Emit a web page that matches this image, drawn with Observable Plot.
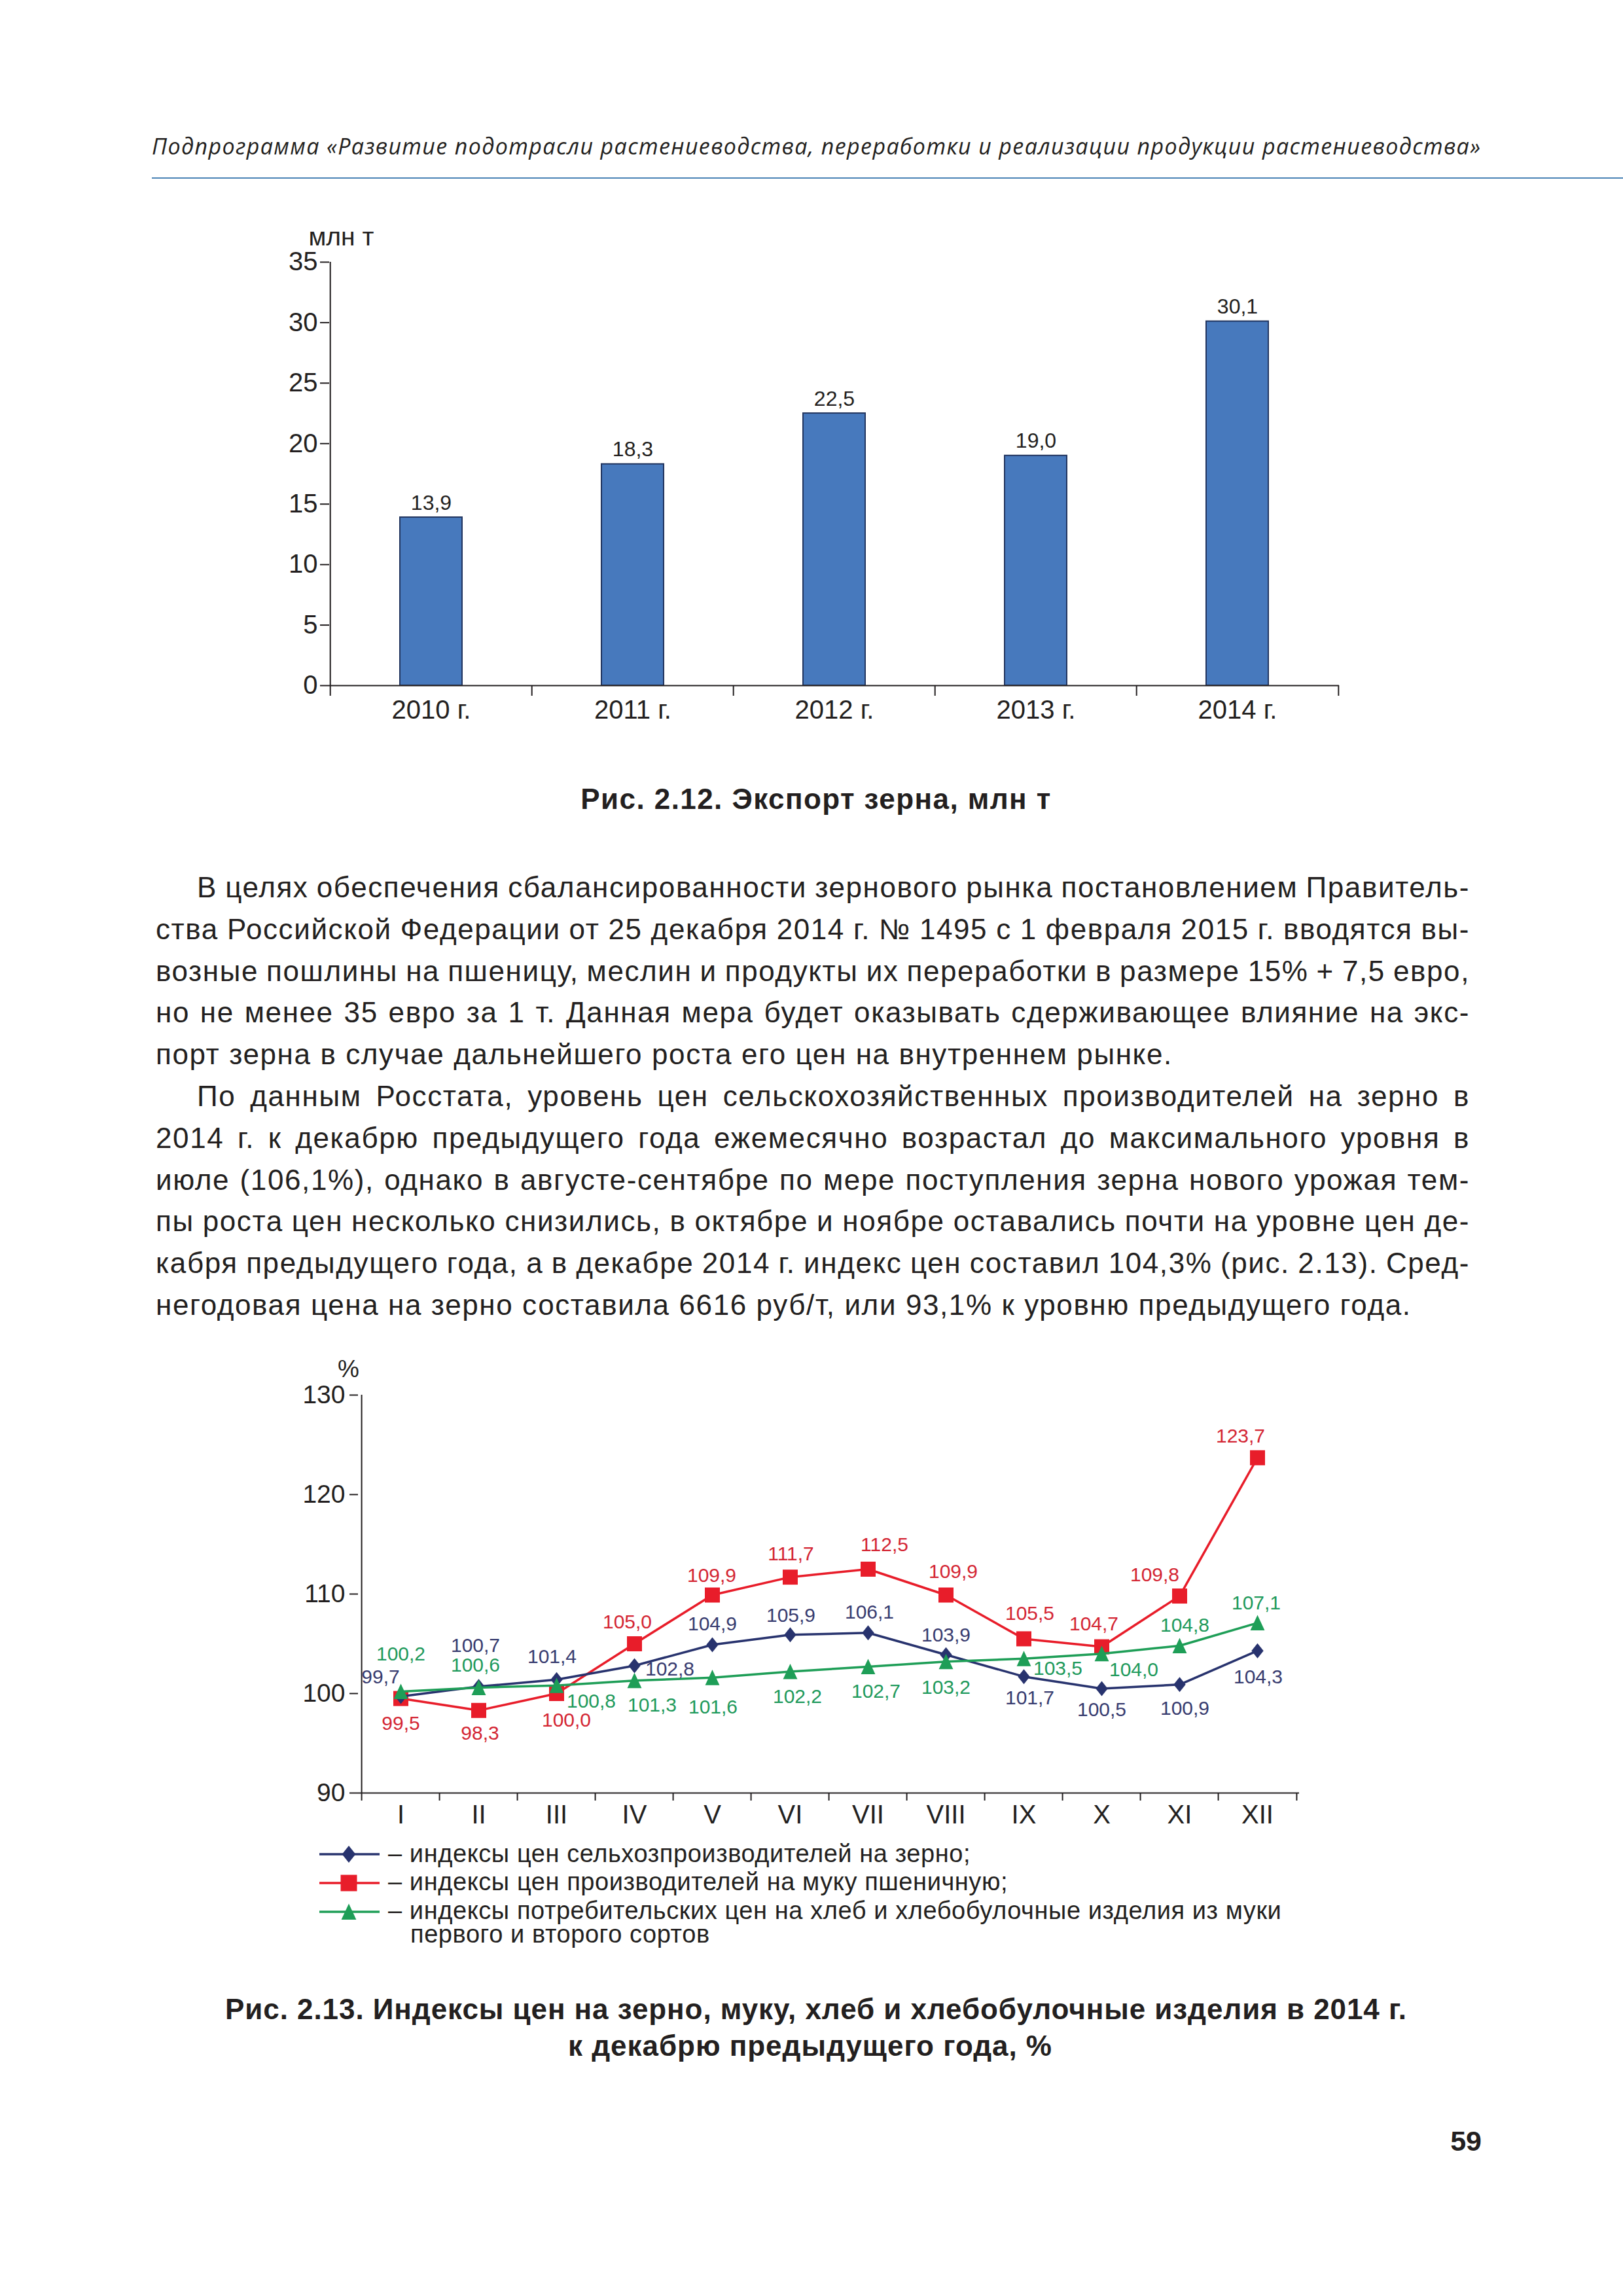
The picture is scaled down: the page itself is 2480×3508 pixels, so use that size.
<!DOCTYPE html>
<html lang="ru">
<head>
<meta charset="utf-8">
<script src="https://cdn.jsdelivr.net/npm/d3@7"></script>
<script src="https://cdn.jsdelivr.net/npm/@observablehq/plot@0.6"></script>
<style>
  html, body { margin: 0; padding: 0; background: #ffffff; }
  #page { position: relative; width: 2480px; height: 3508px; background: #ffffff; overflow: hidden; }
  .layer { position: absolute; left: 0; }
</style>
</head>
<body>
<div id="page"></div>
<script>
// ---------------- DATA ----------------
const exportYears = ["2010 г.", "2011 г.", "2012 г.", "2013 г.", "2014 г."];
const exportValues = [13.9, 18.3, 22.5, 19.0, 30.1];
const exportTicks = [0, 5, 10, 15, 20, 25, 30, 35];

const months = ["I", "II", "III", "IV", "V", "VI", "VII", "VIII", "IX", "X", "XI", "XII"];
const grainIndex = [99.7, 100.7, 101.4, 102.8, 104.9, 105.9, 106.1, 103.9, 101.7, 100.5, 100.9, 104.3];
const flourIndex = [99.5, 98.3, 100.0, 105.0, 109.9, 111.7, 112.5, 109.9, 105.5, 104.7, 109.8, 123.7];
const breadIndex = [100.2, 100.6, 100.8, 101.3, 101.6, 102.2, 102.7, 103.2, 103.5, 104.0, 104.8, 107.1];
const indexTicks = [90, 100, 110, 120, 130];

const legendLabels = [
  "– индексы цен сельхозпроизводителей на зерно;",
  "– индексы цен производителей на муку пшеничную;",
  "– индексы потребительских цен на хлеб и хлебобулочные изделия из муки"
];
const legendContinuation = "первого и второго сортов";

const headerText = "Подпрограмма «Развитие подотрасли растениеводства, переработки и реализации продукции растениеводства»";
const caption1 = "Рис. 2.12. Экспорт зерна, млн т";
const caption2 = ["Рис. 2.13. Индексы цен на зерно, муку, хлеб и хлебобулочные изделия в 2014 г.", "к декабрю предыдущего года, %"];
const pageNumber = "59";

const bodyLines = [
  "В целях обеспечения сбалансированности зернового рынка постановлением Правитель-",
  "ства Российской Федерации от 25 декабря 2014 г. № 1495 с 1 февраля 2015 г. вводятся вы-",
  "возные пошлины на пшеницу, меслин и продукты их переработки в размере 15% + 7,5 евро,",
  "но не менее 35 евро за 1 т. Данная мера будет оказывать сдерживающее влияние на экс-",
  "порт зерна в случае дальнейшего роста его цен на внутреннем рынке.",
  "По данным Росстата, уровень цен сельскохозяйственных производителей на зерно в",
  "2014 г. к декабрю предыдущего года ежемесячно возрастал до максимального уровня в",
  "июле (106,1%), однако в августе-сентябре по мере поступления зерна нового урожая тем-",
  "пы роста цен несколько снизились, в октябре и ноябре оставались почти на уровне цен де-",
  "кабря предыдущего года, а в декабре 2014 г. индекс цен составил 104,3% (рис. 2.13). Сред-",
  "негодовая цена на зерно составила 6616 руб/т, или 93,1% к уровню предыдущего года."
];
// layout flags for the body lines (paragraph first lines / justified lines)
const bodyIndented = [true, false, false, false, false, true, false, false, false, false, false];
const bodyJustified = [true, true, true, true, false, true, true, true, true, true, false];

// label placement offsets (pixels) for the point labels
const grainLabelOffsets = [[-31,-30],[-5,-62],[-7,-35],[54,5],[0,-32],[1,-29],[2,-31],[0,-30],[9,33],[0,32],[8,37],[1,40]];
const flourLabelOffsets = [[0,38],[2,35],[15,41],[-11,-33],[-1,-30],[1,-35],[25,-37],[11,-36],[9,-39],[-12,-35],[-38,-32],[-26,-33]];
const breadLabelOffsets = [[0,-57],[-5,-34],[53,24],[27,38],[1,45],[11,38],[12,38],[0,40],[52,15],[49,25],[8,-31],[-2,-30]];

// ---------------- STYLE ----------------
const FONT = "'Liberation Sans', Arial, Helvetica, sans-serif";
const INK = "#231f20";
const BAR_FILL = "#4779bd";
const BAR_STROKE = "#22355f";
const RED = "#e81d2a", RED_T = "#d42634";
const NAVY = "#28336e", NAVY_T = "#383c70";
const GREEN = "#1e9e57", GREEN_T = "#1f9a5c";

const fmt = v => v.toFixed(1).replace(".", ",");

const page = document.getElementById("page");
const svgNS = "http://www.w3.org/2000/svg";

// ---------------- SYMBOLS ----------------
const squareSymbol = {draw(ctx, size) { const r = Math.sqrt(size / Math.PI); ctx.moveTo(-r, -r); ctx.lineTo(r, -r); ctx.lineTo(r, r); ctx.lineTo(-r, r); ctx.closePath(); }};
const diamondSymbol = {draw(ctx, size) { const r = Math.sqrt(size / Math.PI); ctx.moveTo(0, -r); ctx.lineTo(0.8 * r, 0); ctx.lineTo(0, r); ctx.lineTo(-0.8 * r, 0); ctx.closePath(); }};
const triangleSymbol = {draw(ctx, size) { const r = Math.sqrt(size / Math.PI); ctx.moveTo(0, -1.05 * r); ctx.lineTo(0.95 * r, r); ctx.lineTo(-0.95 * r, r); ctx.closePath(); }};

// ---------------- TEXT OVERLAY ----------------
const overlay = document.createElementNS(svgNS, "svg");
overlay.setAttribute("width", 2480);
overlay.setAttribute("height", 3508);
overlay.setAttribute("class", "layer");
overlay.style.top = "0px";
page.appendChild(overlay);

function mkText(str, x, y, o = {}) {
  const t = document.createElementNS(svgNS, "text");
  t.setAttribute("x", x);
  t.setAttribute("y", y);
  t.setAttribute("font-family", o.family || FONT);
  t.setAttribute("font-size", o.size || 40);
  if (o.weight) t.setAttribute("font-weight", o.weight);
  if (o.style) t.setAttribute("font-style", o.style);
  t.setAttribute("fill", o.fill || INK);
  t.style.whiteSpace = "pre";
  t.textContent = str;
  overlay.appendChild(t);
  return t;
}
const textW = t => t.getComputedTextLength();

function fitLine(t, target, maxSize) {
  t.setAttribute("font-size", maxSize);
  let w = textW(t);
  let size = maxSize;
  if (w > target) {
    size = maxSize * target / w;
    t.setAttribute("font-size", size);
  } else {
    const n = t.textContent.length;
    t.setAttribute("letter-spacing", ((target - w) / (n - 1)).toFixed(3));
  }
  return size;
}

// header
const hdr = mkText(headerText, 232, 236, {family: "'Open Sans', 'Liberation Sans', sans-serif", style: "italic"});
fitLine(hdr, 2030, 34);
const rule = document.createElementNS(svgNS, "rect");
rule.setAttribute("x", 232); rule.setAttribute("y", 271);
rule.setAttribute("width", 2480 - 232); rule.setAttribute("height", 2);
rule.setAttribute("fill", "#4a83b5");
overlay.appendChild(rule);

// captions
function centered(str, cx, baseline, target, maxSize) {
  const t = mkText(str, 0, baseline, {weight: "bold"});
  fitLine(t, target, maxSize);
  const w = textW(t);
  t.setAttribute("x", cx - w / 2);
  return t;
}
centered(caption1, 1247, 1236, 718, 44);
centered(caption2[0], 1247, 3085, 1805, 44);
centered(caption2[1], 1238, 3141, 739, 44);
const pn = mkText(pageNumber, 2264, 3286, {weight: "bold", size: 43});
pn.setAttribute("text-anchor", "end");

// body text
(function () {
  const LEFT = 238, RIGHT = 2246, INDENT = 63, BASE = 1371, LEAD = 63.8;
  let S = 44;
  const probe = mkText(bodyLines[10], 0, -200, {size: S});
  let w = textW(probe);
  if (w > 1917) { S = S * 1917 / w; probe.setAttribute("font-size", S); w = textW(probe); }
  const ls = Math.max(0, (1917 - w) / (bodyLines[10].length - 1));
  probe.remove();
  bodyLines.forEach((line, i) => {
    const x = LEFT + (bodyIndented[i] ? INDENT : 0);
    const t = mkText(line, x, BASE + LEAD * i, {size: S});
    t.setAttribute("letter-spacing", ls.toFixed(3));
    if (bodyJustified[i]) {
      const spaces = (line.match(/ /g) || []).length;
      let ws = (RIGHT - x - textW(t)) / spaces;
      t.setAttribute("word-spacing", ws.toFixed(3));
      const w2 = textW(t);
      ws += (RIGHT - x - w2) / spaces;
      t.setAttribute("word-spacing", ws.toFixed(3));
    }
  });
})();

// legend
(function () {
  const rows = [2833, 2877, 2921];
  const baselines = [2845, 2888, 2932];
  const specs = [
    {color: NAVY, symbol: diamondSymbol, r: 13},
    {color: RED, symbol: squareSymbol, r: 12.5},
    {color: GREEN, symbol: triangleSymbol, r: 12}
  ];
  let size = 38;
  const probe = mkText(legendLabels[2].slice(2), 0, -200, {size: 38});
  let w = textW(probe);
  let ls = 0;
  if (w > 1332) size = 38 * 1332 / w; else ls = (1332 - w) / (legendLabels[2].length - 3);
  probe.remove();
  specs.forEach((s, i) => {
    const ln = document.createElementNS(svgNS, "line");
    ln.setAttribute("x1", 488); ln.setAttribute("x2", 580);
    ln.setAttribute("y1", rows[i]); ln.setAttribute("y2", rows[i]);
    ln.setAttribute("stroke", s.color); ln.setAttribute("stroke-width", 3.5);
    overlay.appendChild(ln);
    const p = d3.path();
    s.symbol.draw(p, s.r * s.r * Math.PI);
    const path = document.createElementNS(svgNS, "path");
    path.setAttribute("d", p.toString());
    path.setAttribute("transform", `translate(533,${rows[i]})`);
    path.setAttribute("fill", s.color);
    overlay.appendChild(path);
    const t = mkText(legendLabels[i], 593, baselines[i], {size});
    t.setAttribute("letter-spacing", ls.toFixed(3));
  });
  const t4 = mkText(legendContinuation, 627, 2968, {size});
  t4.setAttribute("letter-spacing", ls.toFixed(3));
})();

// ---------------- BAR CHART ----------------
const BAR = {top: 330, height: 790, left: 503, right: 2046, frameTop: 400, frameBottom: 1047};
const barStep = (BAR.right - BAR.left) / exportYears.length;
const barData = exportYears.map((year, i) => ({year, value: exportValues[i]}));

const barChart = Plot.plot({
  width: 2480,
  height: BAR.height,
  marginTop: BAR.frameTop - BAR.top,
  marginBottom: BAR.top + BAR.height - BAR.frameBottom,
  marginLeft: BAR.left,
  marginRight: 2480 - BAR.right,
  style: {fontFamily: FONT, fontSize: "39px", color: INK, background: "transparent", overflow: "visible"},
  x: {domain: exportYears, paddingInner: 0.692, paddingOuter: 0.346},
  y: {domain: [0, 35]},
  marks: [
    Plot.barY(barData, {x: "year", y: "value", fill: BAR_FILL, stroke: BAR_STROKE, strokeWidth: 2}),
    Plot.text(barData, {x: "year", y: "value", text: d => fmt(d.value), lineAnchor: "bottom", dy: -12, fontSize: 32, fill: INK}),
    Plot.ruleY([0], {stroke: INK, strokeWidth: 2}),
    Plot.ruleX([exportYears[0]], {dx: -barStep / 2, y1: 0, y2: 35, stroke: INK, strokeWidth: 2}),
    Plot.axisY({ticks: exportTicks, tickSize: 14, tickPadding: 4, fontSize: 40, label: null, strokeWidth: 2}),
    Plot.axisX({tickSize: 0, tickPadding: 22, fontSize: 40, label: null}),
    Plot.axisX({tickSize: 16, dx: -barStep / 2, tickFormat: () => "", label: null, strokeWidth: 2}),
    Plot.axisX({ticks: [exportYears[exportYears.length - 1]], tickSize: 16, dx: barStep / 2, tickFormat: () => "", label: null, strokeWidth: 2}),
    Plot.text(["млн т"], {frameAnchor: "top-left", dx: -32, dy: -26, lineAnchor: "bottom", textAnchor: "start", fontSize: 39, fill: INK})
  ]
});
const barWrap = document.createElement("div");
barWrap.className = "layer";
barWrap.style.top = BAR.top + "px";
barWrap.appendChild(barChart);
page.appendChild(barWrap);

// ---------------- LINE CHART ----------------
const LINE = {top: 2050, height: 750, left: 547, right: 1985, frameTop: 2131, frameBottom: 2739};
const lineStep = (LINE.right - LINE.left) / months.length;
const seriesSpecs = [
  {values: flourIndex, offsets: flourLabelOffsets, color: RED, textColor: RED_T, symbol: squareSymbol, r: 11.5},
  {values: grainIndex, offsets: grainLabelOffsets, color: NAVY, textColor: NAVY_T, symbol: diamondSymbol, r: 11.5},
  {values: breadIndex, offsets: breadLabelOffsets, color: GREEN, textColor: GREEN_T, symbol: triangleSymbol, r: 11.5}
];
const seriesMarks = [];
const labelMarks = [];
for (const s of seriesSpecs) {
  const rows = months.map((m, i) => ({m, v: s.values[i]}));
  seriesMarks.push(Plot.line(rows, {x: "m", y: "v", stroke: s.color, strokeWidth: 3.5}));
  seriesMarks.push(Plot.dot(rows, {x: "m", y: "v", symbol: s.symbol, r: s.r, fill: s.color}));
  rows.forEach((row, i) => {
    labelMarks.push(Plot.text([row], {
      x: "m", y: "v", text: d => fmt(d.v),
      dx: s.offsets[i][0], dy: s.offsets[i][1],
      fill: s.textColor, fontSize: 30, textAnchor: "middle", lineAnchor: "middle"
    }));
  });
}

const lineChart = Plot.plot({
  width: 2480,
  height: LINE.height,
  marginTop: LINE.frameTop - LINE.top,
  marginBottom: LINE.top + LINE.height - LINE.frameBottom,
  marginLeft: LINE.left,
  marginRight: 2480 - LINE.right,
  style: {fontFamily: FONT, fontSize: "38px", color: INK, background: "transparent", overflow: "visible"},
  x: {type: "point", domain: months, padding: 0.5},
  y: {domain: [90, 130]},
  marks: [
    Plot.ruleY([90], {stroke: INK, strokeWidth: 2}),
    Plot.ruleX([months[0]], {dx: -lineStep / 2, y1: 90, y2: 130, stroke: INK, strokeWidth: 2}),
    Plot.axisY({ticks: indexTicks, tickSize: 13, tickPadding: 7, fontSize: 39, label: null, strokeWidth: 2}),
    Plot.axisX({tickSize: 0, tickPadding: 18, fontSize: 40, label: null}),
    Plot.axisX({tickSize: 12, dx: -lineStep / 2, tickFormat: () => "", label: null, strokeWidth: 2}),
    Plot.axisX({ticks: [months[months.length - 1]], tickSize: 12, dx: lineStep / 2, tickFormat: () => "", label: null, strokeWidth: 2}),
    ...seriesMarks,
    ...labelMarks,
    Plot.text(["%"], {frameAnchor: "top-left", dx: -15, dy: -28, lineAnchor: "bottom", textAnchor: "middle", fontSize: 37, fill: INK})
  ]
});
const lineWrap = document.createElement("div");
lineWrap.className = "layer";
lineWrap.style.top = LINE.top + "px";
lineWrap.appendChild(lineChart);
page.appendChild(lineWrap);
</script>
</body>
</html>
